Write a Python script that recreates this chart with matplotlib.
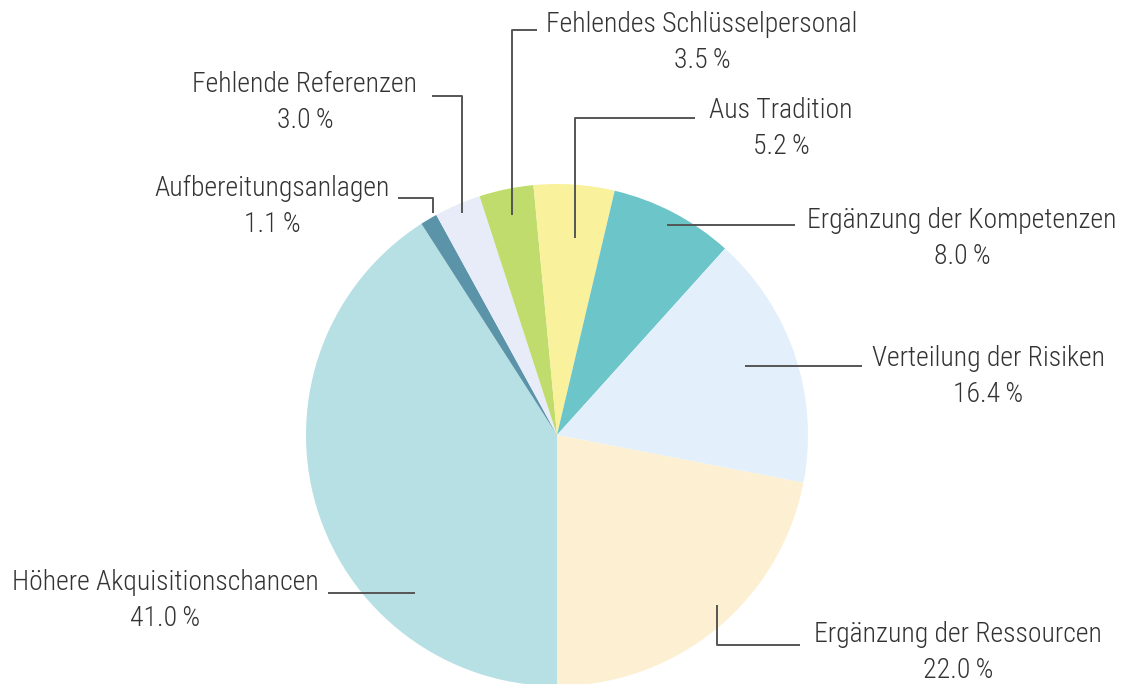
import matplotlib
matplotlib.use('Agg')
import matplotlib.pyplot as plt

# Anteile (%) im Uhrzeigersinn ab 6 Uhr
labels = ['Höhere Akquisitionschancen', 'Aufbereitungsanlagen', 'Fehlende Referenzen',
          'Fehlendes Schlüsselpersonal', 'Aus Tradition', 'Ergänzung der Kompetenzen',
          'Verteilung der Risiken', 'Ergänzung der Ressourcen']
values = [41.0, 1.1, 3.0, 3.5, 5.2, 8.0, 16.4, 22.0]
colors = ['#b6e0e4', '#5b94a9', '#e7ecf8', '#c0dc6c', '#f9f19c', '#6cc5c8',
          '#e3f0fb', '#fdf0d2']

W, H = 1125, 684
cx, cy, r = 557, H - 435, 251

plt.rcParams['font.family'] = ['Roboto Condensed', 'DejaVu Sans']

fig = plt.figure(figsize=(W / 100, H / 100), dpi=100)
ax = fig.add_axes([0, 0, 1, 1])

ax.pie(values, colors=colors, startangle=270, counterclock=False,
       center=(cx, cy), radius=r, wedgeprops=dict(linewidth=0))

ax.set_xlim(0, W)
ax.set_ylim(0, H)
ax.set_aspect('equal')
ax.axis('off')

# Beschriftungen: Textmitte, Anker im Segment, Knick der Führungslinie, Linienende
# (Pixelkoordinaten von oben gemessen)
layout = [
    ((165, 583), (415, 593), None, (328, 593)),
    ((272, 188), (433, 213), (433, 198), (398, 198)),
    ((305, 85), (462, 213), (462, 96), (432, 96)),
    ((702, 25), (512, 215), (512, 30), (537, 30)),
    ((781, 110), (575, 238), (575, 118), (695, 118)),
    ((962, 220), (667, 225), None, (795, 225)),
    ((988, 358), (745, 366), None, (862, 366)),
    ((958, 634), (717, 605), (717, 645), (800, 645)),
]

txt_color = '#333333'
for lab, val, (tpos, anchor, knee, end) in zip(labels, values, layout):
    pts = [anchor] + ([knee] if knee else []) + [end]
    ax.plot([p[0] for p in pts], [H - p[1] for p in pts], color='#555555', lw=1.4,
            solid_capstyle='butt')
    ax.text(tpos[0], H - tpos[1], lab, ha='center', va='center', fontsize=20,
            fontweight='light', color=txt_color)
    ax.text(tpos[0], H - tpos[1] - 36, f'{val:.1f}\u2009%',
            ha='center', va='center', fontsize=20, fontweight='light', color=txt_color)

fig.savefig('out.png', dpi=100, facecolor='white')
